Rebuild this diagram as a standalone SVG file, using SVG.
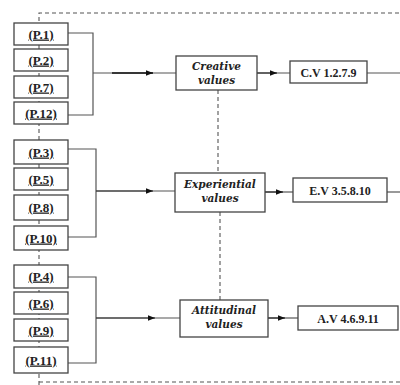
<svg xmlns="http://www.w3.org/2000/svg" width="400" height="385" viewBox="0 0 400 385">
<defs>
<marker id="ah" viewBox="0 0 10 10" refX="10" refY="5" markerWidth="7" markerHeight="7" markerUnits="userSpaceOnUse" orient="auto"><path d="M0,1 L10,5 L0,9 z" fill="#111"/></marker>
<style>
.box{fill:#fff;stroke:#444;stroke-width:1.3}
.ln{fill:none;stroke:#555;stroke-width:1.2}
.dash{fill:none;stroke:#555;stroke-width:1.1;stroke-dasharray:4,3}
.p{font-family:"Liberation Serif","DejaVu Serif",serif;font-weight:bold;font-size:13px;text-decoration:underline;fill:#222;text-anchor:middle}
.v{font-family:"DejaVu Serif","Liberation Serif",serif;font-weight:bold;font-style:italic;font-size:10.5px;fill:#222;text-anchor:middle}
.c{font-family:"Liberation Serif","DejaVu Serif",serif;font-weight:bold;font-size:12px;fill:#222;text-anchor:middle}
</style>
</defs>
<rect width="400" height="385" fill="#fff"/>
<g id="connectors">
<path class="dash" d="M39,385 V13 H400"/>
<path class="dash" d="M39,382 H400"/>
<path class="dash" d="M218,90 V173"/>
<path class="dash" d="M220,212 V300"/>
<path class="ln" d="M68,33 H93 V115 H68"/>
<path class="ln" d="M93,73 H176"/>
<path d="M112,73 H153" stroke="#111" stroke-width="1.6" marker-end="url(#ah)"/>
<path class="ln" d="M257,73 H290"/>
<path d="M257,73 H277" stroke="#333" stroke-width="1.2" marker-end="url(#ah)"/>
<path class="ln" d="M367,73 H400"/>
<path class="ln" d="M68,149 H96 V237 H68"/>
<path class="ln" d="M96,191 H175"/>
<path d="M96,191 H153" stroke="#333" stroke-width="1.2" marker-end="url(#ah)"/>
<path class="ln" d="M265,192 H293"/>
<path d="M265,192 H283" stroke="#333" stroke-width="1.2" marker-end="url(#ah)"/>
<path class="ln" d="M387,192 H400"/>
<path class="ln" d="M68,277 H96 V363 H68"/>
<path class="ln" d="M96,318 H180"/>
<path d="M96,318 H155" stroke="#333" stroke-width="1.2" marker-end="url(#ah)"/>
<path class="ln" d="M268,318 H298"/>
<path d="M268,318 H285" stroke="#333" stroke-width="1.2" marker-end="url(#ah)"/>
</g>
<g id="p1"><rect class="box" x="14" y="23" width="54" height="22"/><text class="p" x="41" y="38.5">(P.1)</text></g>
<g id="p2"><rect class="box" x="14" y="49" width="54" height="22"/><text class="p" x="41" y="64.5">(P.2)</text></g>
<g id="p7"><rect class="box" x="14" y="76" width="54" height="22"/><text class="p" x="41" y="91.5">(P.7)</text></g>
<g id="p12"><rect class="box" x="14" y="102" width="54" height="22"/><text class="p" x="41" y="117.5">(P.12)</text></g>
<g id="p3"><rect class="box" x="14" y="140" width="54" height="24"/><text class="p" x="41" y="156.5">(P.3)</text></g>
<g id="p5"><rect class="box" x="14" y="168" width="54" height="22"/><text class="p" x="41" y="183.5">(P.5)</text></g>
<g id="p8"><rect class="box" x="14" y="195" width="54" height="25"/><text class="p" x="41" y="211.5">(P.8)</text></g>
<g id="p10"><rect class="box" x="14" y="226" width="54" height="24"/><text class="p" x="41" y="242.5">(P.10)</text></g>
<g id="p4"><rect class="box" x="14" y="265" width="54" height="23"/><text class="p" x="41" y="280.5">(P.4)</text></g>
<g id="p6"><rect class="box" x="14" y="292" width="54" height="22"/><text class="p" x="41" y="307.5">(P.6)</text></g>
<g id="p9"><rect class="box" x="14" y="319" width="54" height="22"/><text class="p" x="41" y="334.5">(P.9)</text></g>
<g id="p11"><rect class="box" x="14" y="347" width="54" height="26"/><text class="p" x="41" y="364.5">(P.11)</text></g>
<g id="creative"><rect class="box" x="176" y="56" width="81" height="34"/><text class="v" x="216.5" y="70">Creative</text><text class="v" x="216.5" y="84">values</text></g>
<g id="experiential"><rect class="box" x="175" y="173" width="90" height="39"/><text class="v" x="220" y="188">Experiential</text><text class="v" x="220" y="202">values</text></g>
<g id="attitudinal"><rect class="box" x="180" y="300" width="88" height="37"/><text class="v" x="224" y="314">Attitudinal</text><text class="v" x="224" y="328">values</text></g>
<g id="cv"><rect class="box" x="290" y="61" width="77" height="22"/><text class="c" x="328.5" y="76.5">C.V 1.2.7.9</text></g>
<g id="ev"><rect class="box" x="293" y="178" width="94" height="24"/><text class="c" x="340" y="194.5">E.V 3.5.8.10</text></g>
<g id="av"><rect class="box" x="298" y="306" width="100" height="24"/><text class="c" x="348" y="322.5">A.V 4.6.9.11</text></g>
</svg>
